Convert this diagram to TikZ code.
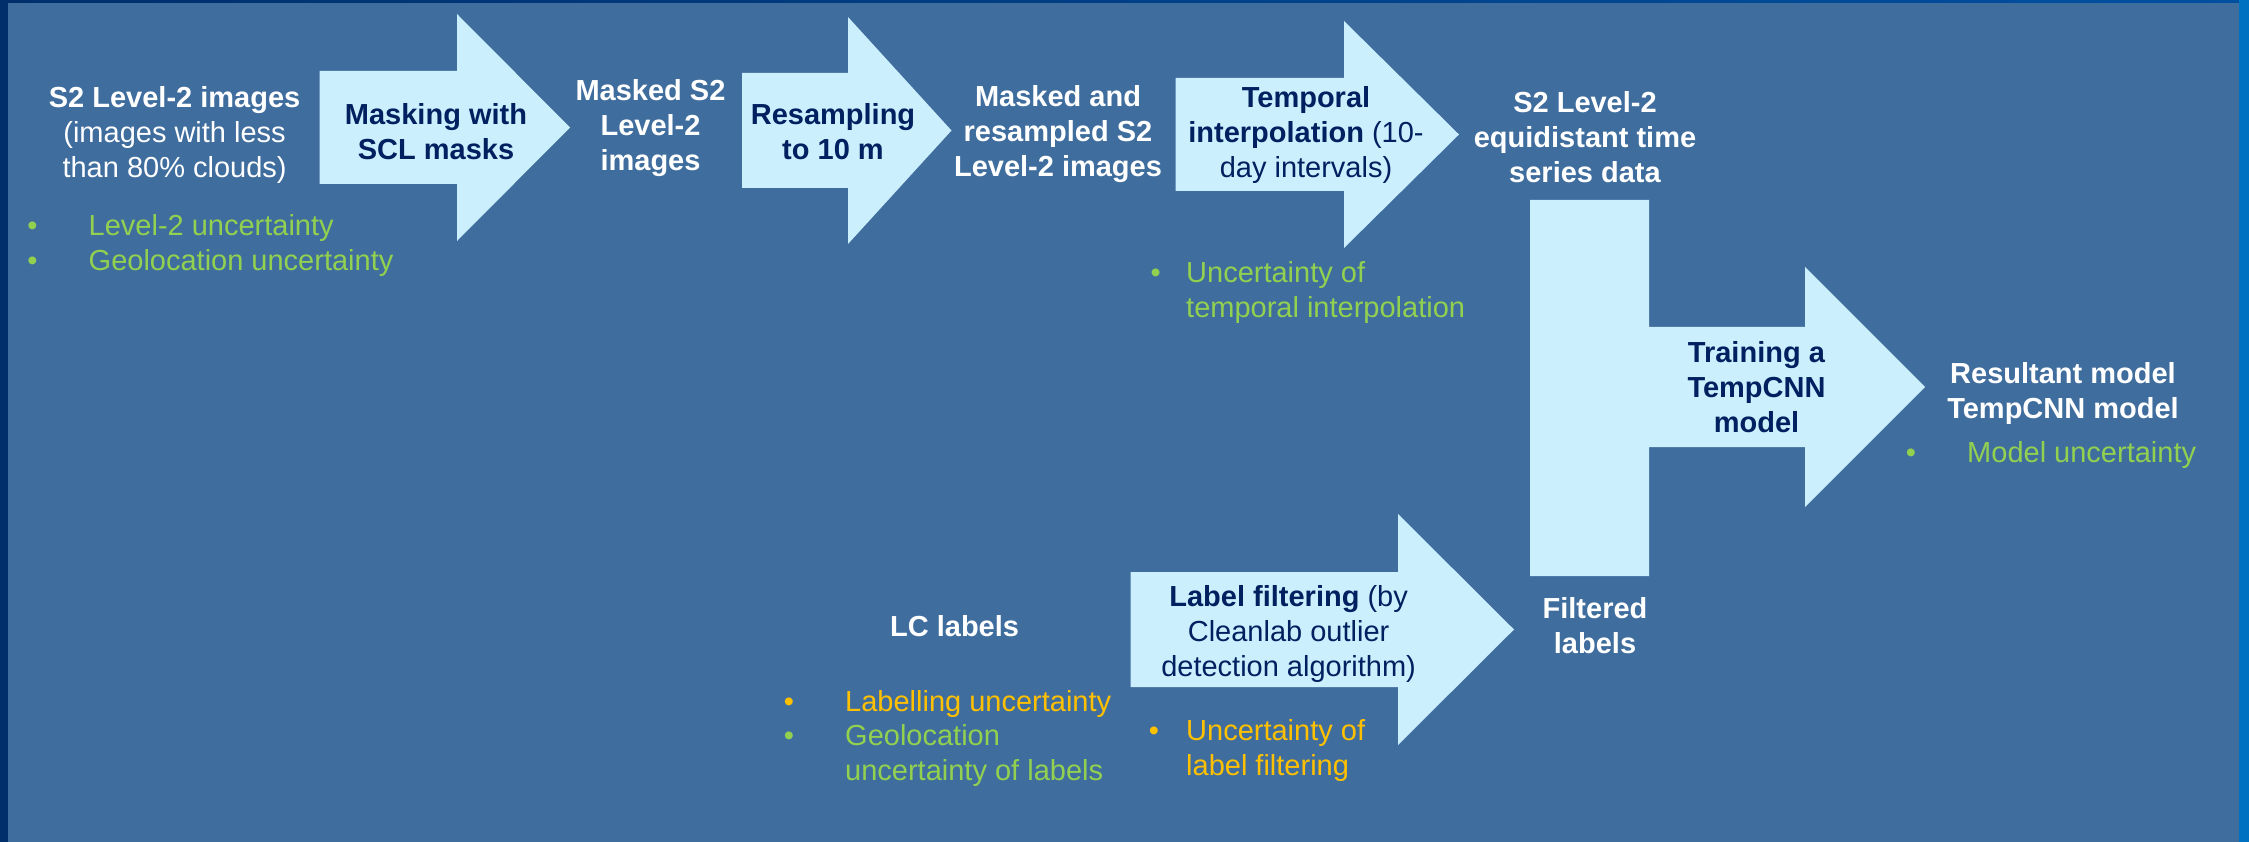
\documentclass[tikz,border=0pt]{standalone}
\usepackage{fontspec}
\setmainfont{Liberation Sans}
\usepackage{tikz}

\definecolor{slidebg}{RGB}{63,109,158}
\definecolor{framenavy}{RGB}{0,47,108}
\definecolor{frameblue}{RGB}{0,112,192}
\definecolor{arrowfill}{RGB}{204,239,253}
\definecolor{labelnavy}{RGB}{0,32,96}
\definecolor{uncgreen}{RGB}{146,208,80}
\definecolor{uncorange}{RGB}{255,192,0}

\tikzset{
  every node/.style={inner sep=0pt, font=\fontsize{29}{35}\selectfont},
  blockarrow/.style={fill=arrowfill},
  datatext/.style={anchor=north, align=center, text=white,
    font=\fontsize{29}{35}\selectfont\bfseries},
  steptext/.style={anchor=north, align=center, text=labelnavy},
  unctext/.style={anchor=north west, align=left},
  bulletmark/.style={anchor=base},
}

\begin{document}
\begin{tikzpicture}[x=1pt, y=-1pt]
  \useasboundingbox (0,0) rectangle (2249,842);
  % slide background and frame
  \fill[slidebg] (0,0) rectangle (2249,842);
  \fill[framenavy] (0,0) rectangle (8,842);
  \shade[left color=framenavy, right color={rgb,255:red,0;green,80;blue,160}] (0,0) rectangle (2249,3);
  \fill[frameblue] (2239,0) rectangle (2249,842);

  % block arrows
  \fill[blockarrow] (319.5,71) -- (457,71) -- (457,14) -- (570,127.5) -- (457,241) -- (457,184) -- (319.5,184) -- cycle;
  \fill[blockarrow] (742,73) -- (848,73) -- (848,17) -- (951.5,130.5) -- (848,244) -- (848,188) -- (742,188) -- cycle;
  \fill[blockarrow] (1175.5,78) -- (1344,78) -- (1344,21) -- (1459,134.5) -- (1344,248) -- (1344,191) -- (1175.5,191) -- cycle;
  \fill[blockarrow] (1130.5,572) -- (1398,572) -- (1398,514) -- (1514,629.5) -- (1398,745) -- (1398,687) -- (1130.5,687) -- cycle;
  \fill[blockarrow] (1530,200) -- (1649,200) -- (1649,327) -- (1805,327) -- (1805,267) -- (1925,387)
    -- (1805,507) -- (1805,447) -- (1649,447) -- (1649,576) -- (1530,576) -- cycle;

  % data products
  \node[datatext] (s2img) at (174.6,86.5) {S2 Level-2 images\\\mdseries(images with less\\\mdseries than 80\% clouds)};
  \node[datatext] (masked) at (650.5,79.5) {Masked S2\\Level-2\\images};
  \node[datatext] (maskres) at (1058,85.5) {Masked and\\resampled S2\\Level-2 images};
  \node[datatext] (equi) at (1585,91.5) {S2 Level-2\\equidistant time\\series data};
  \node[datatext] (lclabels) at (954.6,615.5) {LC labels};
  \node[datatext] (filtered) at (1595,597.5) {Filtered\\labels};
  \node[datatext] (result) at (2063,362.5) {Resultant model\\TempCNN model};

  % processing steps
  \node[steptext] (masking) at (436,103.5) {\textbf{Masking with}\\\textbf{SCL masks}};
  \node[steptext] (resampling) at (833,103.5) {\textbf{Resampling}\\\textbf{to 10 m}};
  \node[steptext] (temporal) at (1306,86.5) {\textbf{Temporal}\\\textbf{interpolation} (10-\\day intervals)};
  \node[steptext] (filtering) at (1288.6,585.5) {\textbf{Label filtering} (by\\Cleanlab outlier\\detection algorithm)};
  \node[steptext] (training) at (1756.5,341.5) {\textbf{Training a}\\\textbf{TempCNN}\\\textbf{model}};

  % uncertainties
  \node[bulletmark, text=uncgreen] (b11) at (32.5,235.4) {•};
  \node[bulletmark, text=uncgreen] (b12) at (32.5,270.4) {•};
  \node[unctext, text=uncgreen] (unc1) at (88.5,214.5) {Level-2 uncertainty\\Geolocation uncertainty};

  \node[bulletmark, text=uncgreen] (b21) at (1155.6,282.4) {•};
  \node[unctext, text=uncgreen] (unc2) at (1186,261.5) {Uncertainty of\\temporal interpolation};

  \node[bulletmark, text=uncgreen] (b31) at (1911,462.4) {•};
  \node[unctext, text=uncgreen] (unc3) at (1967,441.5) {Model uncertainty};

  \node[bulletmark, text=uncorange] (b41) at (789,711.4) {•};
  \node[unctext, text=uncorange] (unc41) at (845,690.5) {Labelling uncertainty};
  \node[bulletmark, text=uncgreen] (b42) at (789,745.4) {•};
  \node[unctext, text=uncgreen] (unc42) at (845,724.5) {Geolocation\\uncertainty of labels};

  \node[bulletmark, text=uncorange] (b51) at (1154,740.4) {•};
  \node[unctext, text=uncorange] (unc5) at (1186,719.5) {Uncertainty of\\label filtering};
\end{tikzpicture}
\end{document}
